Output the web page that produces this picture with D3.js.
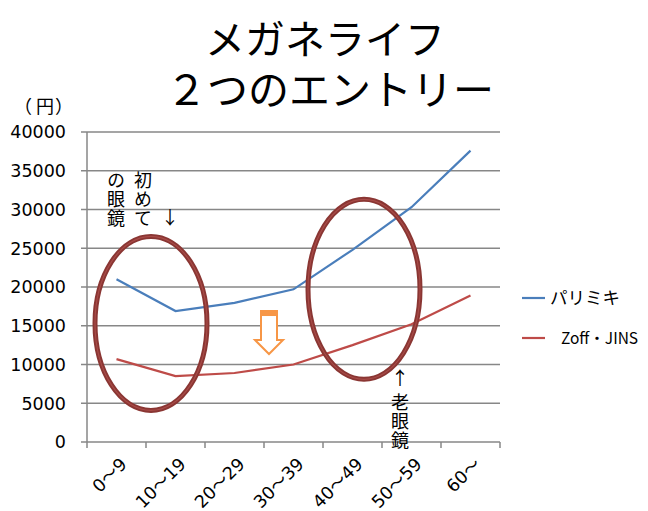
<!DOCTYPE html>
<html>
<head>
<meta charset="utf-8">
<script src="https://cdn.jsdelivr.net/npm/d3@7"></script>
<style>
  body { margin: 0; background: #fff; }
  text { font-family: "Noto Sans CJK JP", "DejaVu Sans", sans-serif; }
  .num { font-family: "DejaVu Sans", "Noto Sans CJK JP", sans-serif; }
  .vert { writing-mode: vertical-rl; }
</style>
</head>
<body>
<div id="chart"></div>
<script>
const categories = ["0～9", "10～19", "20～29", "30～39", "40～49", "50～59", "60～"];
const parimiki = [21000, 16900, 17950, 19700, 24800, 30300, 37600];
const zoffJins = [10700, 8500, 8900, 10000, 12500, 15200, 18900];
const yTicks = [0, 5000, 10000, 15000, 20000, 25000, 30000, 35000, 40000];
const seriesNames = ["パリミキ", "Zoff・JINS"];
const colors = ["#4A7EBB", "#BE4B48"];

const width = 648;
const height = 511;
const margin = { top: 132, right: 148, bottom: 69, left: 87 };
const boundedwidth = width - margin.left - margin.right;
const boundedheight = height - margin.top - margin.bottom;

const svg = d3.select("#chart").append("svg")
    .attr("width", width)
    .attr("height", height);

// title, two lines in one text
const title = svg.append("text").attr("text-anchor", "middle");
title.append("tspan").attr("x", 325).attr("y", 54)
    .attr("font-size", 40).text("メガネライフ");
title.append("tspan").attr("x", 330).attr("y", 105)
    .attr("font-size", 41).text("２つのエントリー");

const g = svg.append("g")
    .attr("transform", "translate(" + margin.left + "," + margin.top + ")");

const xScale = d3.scaleBand().domain(categories).range([0, boundedwidth]);
const yScale = d3.scaleLinear().domain([0, 40000]).range([boundedheight, 0]);
const xc = d => xScale(d) + xScale.bandwidth() / 2;

// gridlines
g.selectAll(".grid").data(yTicks).join("line")
    .attr("x1", -6).attr("x2", boundedwidth)
    .attr("y1", d => yScale(d)).attr("y2", d => yScale(d))
    .attr("stroke", "#878787").attr("stroke-width", 1.5);

// y axis line
g.append("line").attr("x1", 0).attr("x2", 0)
    .attr("y1", 0).attr("y2", boundedheight)
    .attr("stroke", "#878787").attr("stroke-width", 1.5);

// y tick labels
g.selectAll(".ylab").data(yTicks).join("text")
    .attr("class", "num")
    .attr("x", -21).attr("y", d => yScale(d)).attr("dy", "0.36em")
    .attr("text-anchor", "end").attr("font-size", 17.5).text(d => d);

// unit label, each glyph placed so the full-width brackets keep their room
svg.append("text").attr("x", "14 36 55").attr("y", 107).attr("dy", "0.36em")
    .attr("font-size", 18).text("（円）");

// x axis ticks at category boundaries
const bounds = categories.map(d => xScale(d)).concat([boundedwidth]);
g.selectAll(".xtick").data(bounds).join("line")
    .attr("x1", d => d).attr("x2", d => d)
    .attr("y1", boundedheight).attr("y2", boundedheight + 6)
    .attr("stroke", "#878787").attr("stroke-width", 1.5);

g.selectAll(".xlab").data(categories).join("text")
    .attr("class", "num")
    .attr("transform", d => "translate(" + (xc(d) + 7) + "," + (boundedheight + 19) + ") rotate(-45)")
    .attr("text-anchor", "end").attr("dy", "0.35em")
    .attr("font-size", 17.5).text(d => d);

// lines
const line = d3.line()
    .x((d, i) => xc(categories[i]))
    .y(d => yScale(d));

[parimiki, zoffJins].forEach((s, i) => {
    g.append("path").datum(s)
        .attr("fill", "none")
        .attr("stroke", colors[i])
        .attr("stroke-width", 2.2)
        .attr("d", line);
});

// ellipses (annotation)
const ellipses = [
    { cx: xScale("10～19") + 5, cy: yScale(15300), rx: 56, ry: 87 },
    { cx: xScale("50～59") - 18, cy: yScale(19700), rx: 56, ry: 90 }
];
ellipses.forEach(e => {
    g.append("ellipse").attr("cx", e.cx).attr("cy", e.cy).attr("rx", e.rx).attr("ry", e.ry)
        .attr("fill", "none").attr("stroke", "#8A3633").attr("stroke-width", 5);
    g.append("ellipse").attr("cx", e.cx).attr("cy", e.cy).attr("rx", e.rx).attr("ry", e.ry)
        .attr("fill", "none").attr("stroke", "#A84B48").attr("stroke-width", 1.2);
});

// orange hollow arrow
const ax = xScale("30～39") + 5;
const ay = yScale(16900);
const arrow = [[-8, 0], [8, 0], [8, 29], [14, 29], [0, 43], [-14, 29], [-8, 29]];
g.append("path")
    .attr("d", d3.line()(arrow.map(p => [ax + p[0], ay + p[1]])) + "Z")
    .attr("fill", "#fff").attr("stroke", "#F79646").attr("stroke-width", 2);
g.append("rect").attr("x", ax - 8).attr("y", ay).attr("width", 16).attr("height", 5)
    .attr("fill", "#F79646");

// vertical text annotations
svg.append("text").attr("class", "vert")
    .attr("x", 116).attr("y", 171).attr("font-size", 18)
    .attr("letter-spacing", 1).text("の眼鏡");
svg.append("text").attr("class", "vert")
    .attr("x", 143).attr("y", 171).attr("font-size", 18)
    .attr("letter-spacing", 1).text("初めて");
svg.append("text").attr("x", 170).attr("y", 224)
    .attr("text-anchor", "middle").attr("font-size", 18).text("↓");

svg.append("text").attr("x", 400).attr("y", 385)
    .attr("text-anchor", "middle").attr("font-size", 18).text("↑");
svg.append("text").attr("class", "vert")
    .attr("x", 400).attr("y", 393).attr("font-size", 18)
    .attr("letter-spacing", 1).text("老眼鏡");

// legend
const leg = svg.append("g");
seriesNames.forEach((n, i) => {
    const y = 298 + i * 40;
    leg.append("line").attr("x1", 522).attr("x2", 545).attr("y1", y).attr("y2", y)
        .attr("stroke", colors[i]).attr("stroke-width", 2.2);
    leg.append("text").attr("x", i === 0 ? 550 : 561).attr("y", y).attr("dy", "0.36em")
        .attr("font-size", i === 0 ? 17.5 : 15.5).text(n);
});
</script>
</body>
</html>
